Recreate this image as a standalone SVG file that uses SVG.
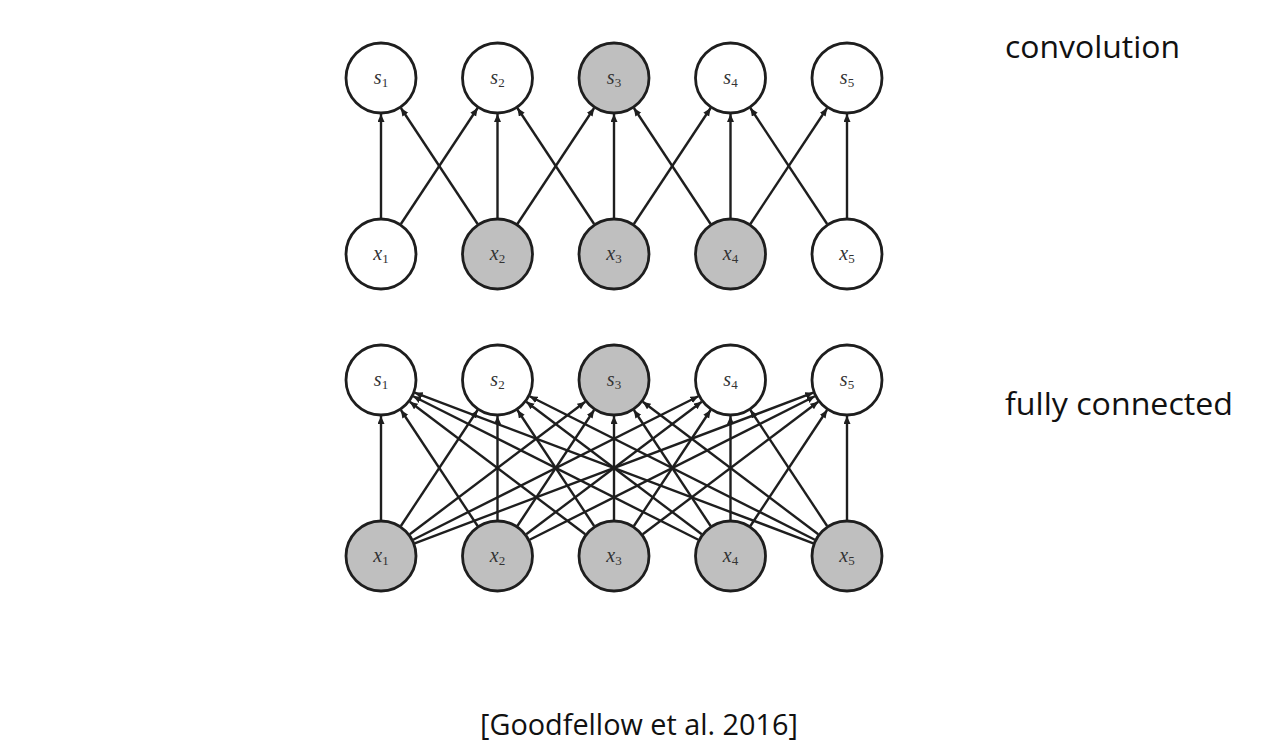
<svg xmlns="http://www.w3.org/2000/svg" width="1280" height="752" viewBox="0 0 1280 752">
<style>
.node{stroke:#1e1e1e;stroke-width:2.8}
.w{fill:#ffffff}
.g{fill:#bfbfbf}
.lbl{font-family:"Liberation Serif",serif;font-size:20px;fill:#333;text-anchor:middle}
.lbl .v{font-style:italic}
.lbl .sub{font-size:13px}
.edges line{stroke:#1e1e1e;stroke-width:2.4;marker-end:url(#arr)}
.cap{font-family:"Open Sans","Liberation Sans",sans-serif;fill:#111}
</style>
<defs>
<marker id="arr" markerUnits="userSpaceOnUse" markerWidth="10" markerHeight="8" refX="8" refY="3.5" orient="auto">
<path d="M0,0 L8,3.5 L0,7 z" fill="#1e1e1e"/>
</marker>
</defs>
<rect width="1280" height="752" fill="#ffffff"/>
<g id="connectors-conv" class="edges">
<line x1="381" y1="218" x2="381" y2="114"/>
<line x1="400.87" y1="223.98" x2="477.63" y2="108.02"/>
<line x1="477.63" y1="223.98" x2="400.87" y2="108.02"/>
<line x1="497.5" y1="218" x2="497.5" y2="114"/>
<line x1="517.37" y1="223.98" x2="594.13" y2="108.02"/>
<line x1="594.13" y1="223.98" x2="517.37" y2="108.02"/>
<line x1="614" y1="218" x2="614" y2="114"/>
<line x1="633.87" y1="223.98" x2="710.63" y2="108.02"/>
<line x1="710.63" y1="223.98" x2="633.87" y2="108.02"/>
<line x1="730.5" y1="218" x2="730.5" y2="114"/>
<line x1="750.37" y1="223.98" x2="827.13" y2="108.02"/>
<line x1="827.13" y1="223.98" x2="750.37" y2="108.02"/>
<line x1="847" y1="218" x2="847" y2="114"/>
</g>
<g id="connectors-fc" class="edges">
<line x1="381" y1="520" x2="381" y2="416"/>
<line x1="400.87" y1="525.98" x2="477.63" y2="410.02"/>
<line x1="409.73" y1="534.29" x2="585.27" y2="401.71"/>
<line x1="413.15" y1="539.8" x2="698.35" y2="396.2"/>
<line x1="414.68" y1="543.28" x2="813.32" y2="392.72"/>
<line x1="477.63" y1="525.98" x2="400.87" y2="410.02"/>
<line x1="497.5" y1="520" x2="497.5" y2="416"/>
<line x1="517.37" y1="525.98" x2="594.13" y2="410.02"/>
<line x1="526.23" y1="534.29" x2="701.77" y2="401.71"/>
<line x1="529.65" y1="539.8" x2="814.85" y2="396.2"/>
<line x1="585.27" y1="534.29" x2="409.73" y2="401.71"/>
<line x1="594.13" y1="525.98" x2="517.37" y2="410.02"/>
<line x1="614" y1="520" x2="614" y2="416"/>
<line x1="633.87" y1="525.98" x2="710.63" y2="410.02"/>
<line x1="642.73" y1="534.29" x2="818.27" y2="401.71"/>
<line x1="698.35" y1="539.8" x2="413.15" y2="396.2"/>
<line x1="701.77" y1="534.29" x2="526.23" y2="401.71"/>
<line x1="710.63" y1="525.98" x2="633.87" y2="410.02"/>
<line x1="730.5" y1="520" x2="730.5" y2="416"/>
<line x1="750.37" y1="525.98" x2="827.13" y2="410.02"/>
<line x1="813.32" y1="543.28" x2="414.68" y2="392.72"/>
<line x1="814.85" y1="539.8" x2="529.65" y2="396.2"/>
<line x1="818.27" y1="534.29" x2="642.73" y2="401.71"/>
<line x1="827.13" y1="525.98" x2="750.37" y2="410.02"/>
<line x1="847" y1="520" x2="847" y2="416"/>
</g>
<g id="conv-s1"><circle class="node w" cx="381" cy="78" r="35"/><text class="lbl" x="381" y="84"><tspan class="v">s</tspan><tspan class="sub" dy="3">1</tspan></text></g>
<g id="conv-s2"><circle class="node w" cx="497.5" cy="78" r="35"/><text class="lbl" x="497.5" y="84"><tspan class="v">s</tspan><tspan class="sub" dy="3">2</tspan></text></g>
<g id="conv-s3"><circle class="node g" cx="614" cy="78" r="35"/><text class="lbl" x="614" y="84"><tspan class="v">s</tspan><tspan class="sub" dy="3">3</tspan></text></g>
<g id="conv-s4"><circle class="node w" cx="730.5" cy="78" r="35"/><text class="lbl" x="730.5" y="84"><tspan class="v">s</tspan><tspan class="sub" dy="3">4</tspan></text></g>
<g id="conv-s5"><circle class="node w" cx="847" cy="78" r="35"/><text class="lbl" x="847" y="84"><tspan class="v">s</tspan><tspan class="sub" dy="3">5</tspan></text></g>
<g id="conv-x1"><circle class="node w" cx="381" cy="254" r="35"/><text class="lbl" x="381" y="260"><tspan class="v">x</tspan><tspan class="sub" dy="3">1</tspan></text></g>
<g id="conv-x2"><circle class="node g" cx="497.5" cy="254" r="35"/><text class="lbl" x="497.5" y="260"><tspan class="v">x</tspan><tspan class="sub" dy="3">2</tspan></text></g>
<g id="conv-x3"><circle class="node g" cx="614" cy="254" r="35"/><text class="lbl" x="614" y="260"><tspan class="v">x</tspan><tspan class="sub" dy="3">3</tspan></text></g>
<g id="conv-x4"><circle class="node g" cx="730.5" cy="254" r="35"/><text class="lbl" x="730.5" y="260"><tspan class="v">x</tspan><tspan class="sub" dy="3">4</tspan></text></g>
<g id="conv-x5"><circle class="node w" cx="847" cy="254" r="35"/><text class="lbl" x="847" y="260"><tspan class="v">x</tspan><tspan class="sub" dy="3">5</tspan></text></g>
<g id="fc-s1"><circle class="node w" cx="381" cy="380" r="35"/><text class="lbl" x="381" y="386"><tspan class="v">s</tspan><tspan class="sub" dy="3">1</tspan></text></g>
<g id="fc-s2"><circle class="node w" cx="497.5" cy="380" r="35"/><text class="lbl" x="497.5" y="386"><tspan class="v">s</tspan><tspan class="sub" dy="3">2</tspan></text></g>
<g id="fc-s3"><circle class="node g" cx="614" cy="380" r="35"/><text class="lbl" x="614" y="386"><tspan class="v">s</tspan><tspan class="sub" dy="3">3</tspan></text></g>
<g id="fc-s4"><circle class="node w" cx="730.5" cy="380" r="35"/><text class="lbl" x="730.5" y="386"><tspan class="v">s</tspan><tspan class="sub" dy="3">4</tspan></text></g>
<g id="fc-s5"><circle class="node w" cx="847" cy="380" r="35"/><text class="lbl" x="847" y="386"><tspan class="v">s</tspan><tspan class="sub" dy="3">5</tspan></text></g>
<g id="fc-x1"><circle class="node g" cx="381" cy="556" r="35"/><text class="lbl" x="381" y="562"><tspan class="v">x</tspan><tspan class="sub" dy="3">1</tspan></text></g>
<g id="fc-x2"><circle class="node g" cx="497.5" cy="556" r="35"/><text class="lbl" x="497.5" y="562"><tspan class="v">x</tspan><tspan class="sub" dy="3">2</tspan></text></g>
<g id="fc-x3"><circle class="node g" cx="614" cy="556" r="35"/><text class="lbl" x="614" y="562"><tspan class="v">x</tspan><tspan class="sub" dy="3">3</tspan></text></g>
<g id="fc-x4"><circle class="node g" cx="730.5" cy="556" r="35"/><text class="lbl" x="730.5" y="562"><tspan class="v">x</tspan><tspan class="sub" dy="3">4</tspan></text></g>
<g id="fc-x5"><circle class="node g" cx="847" cy="556" r="35"/><text class="lbl" x="847" y="562"><tspan class="v">x</tspan><tspan class="sub" dy="3">5</tspan></text></g>
<g id="captions">
<text class="cap" x="1005" y="58" font-size="31" textLength="175" lengthAdjust="spacingAndGlyphs">convolution</text>
<text class="cap" x="1005" y="415" font-size="31" textLength="228" lengthAdjust="spacingAndGlyphs">fully connected</text>
<text class="cap" x="480" y="735" font-size="30" textLength="318" lengthAdjust="spacingAndGlyphs">[Goodfellow et al. 2016]</text>
</g>
</svg>
